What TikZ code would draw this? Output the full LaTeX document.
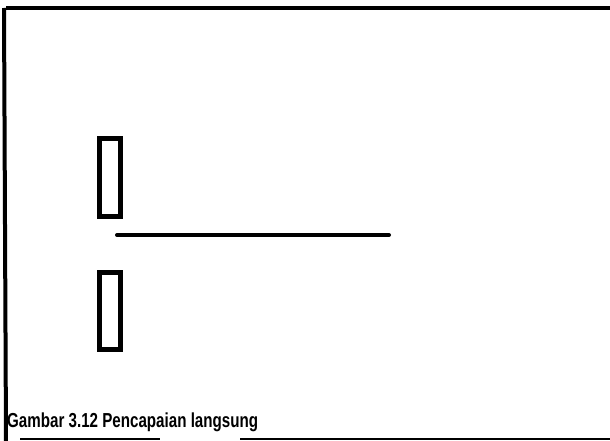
\documentclass[tikz,border=0pt]{standalone}
\usepackage{fontspec}
\setmainfont{Liberation Sans}
\begin{document}
\begin{tikzpicture}[x=1pt,y=-1pt,
  frame/.style={line width=4pt},
  thinframe/.style={line width=1.5pt},
  plate/.style={draw,line width=5pt,minimum width=21pt,minimum height=78pt,inner sep=0pt},
  beam/.style={line width=4pt,line cap=round}]
\useasboundingbox (0,0) rectangle (610,441);
\fill[white] (0,0) rectangle (610,441);
\coordinate (tl) at (6,8);
\coordinate (tr) at (610,8);
\coordinate (bl) at (6,441);
\draw[frame] (tl) -- (tr);
\draw[frame] (4,8) -- (bl);
\draw[thinframe] (20,439) -- (160,439);
\draw[thinframe] (240,439) -- (610,439);
\node[plate] (top) at (110,177.5) {};
\node[plate,minimum height=77pt] (bot) at (110,311) {};
\coordinate (la) at (117,235);
\coordinate (lb) at (389,235);
\draw[beam] (la) -- (lb);
\node[anchor=base west,inner sep=0pt,font=\bfseries\fontsize{15}{15}\selectfont,xscale=1.01,yscale=1.35] (cap) at (7,427) {Gambar 3.12 Pencapaian langsung};
\end{tikzpicture}
\end{document}
